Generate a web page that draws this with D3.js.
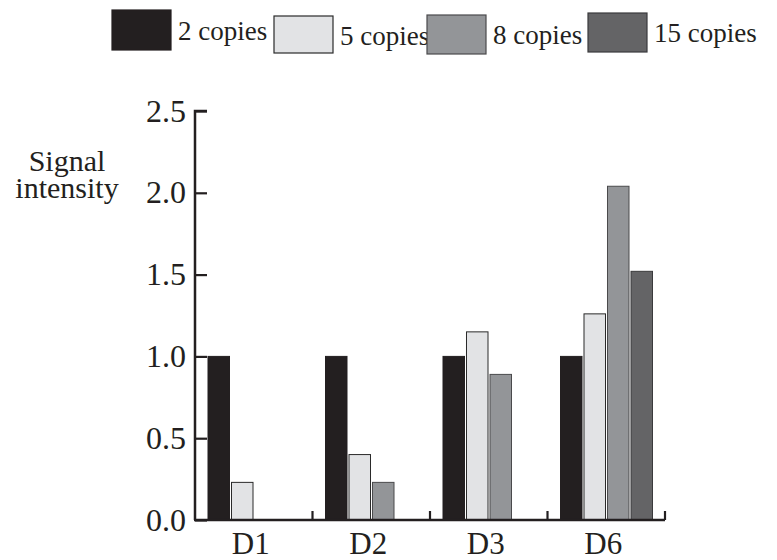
<!DOCTYPE html>
<html>
<head>
<meta charset="utf-8">
<script src="https://cdn.jsdelivr.net/npm/d3@7"></script>
<style>
  html, body { margin: 0; padding: 0; background: #fff; }
  svg { display: block; font-family: "Liberation Serif", "Times New Roman", serif; }
</style>
</head>
<body>
<svg id="chart" width="777" height="560"></svg>
<script>
// ---- data ----
const categories = ["D1", "D2", "D3", "D6"];
const seriesNames = ["2 copies", "5 copies", "8 copies", "15 copies"];
const values2  = [1.00, 1.00, 1.00, 1.00];
const values5  = [0.23, 0.40, 1.15, 1.26];
const values8  = [null, 0.23, 0.89, 2.04];
const values15 = [null, null, null, 1.52];
const yTicks = [0.0, 0.5, 1.0, 1.5, 2.0, 2.5];

// ---- styles / layout ----
const fills   = ["#231f20", "#e2e3e5", "#939598", "#646466"];
const strokes = ["#231f20", "#2a2a2a", "#4a4a4c", "#3a3a3c"];
const legendX = [112, 274, 427, 588];
const legendBoxY = [10, 16, 15, 13];
const legendBoxH = [40, 37, 39, 39];
const legendTextY = [40, 45, 43.5, 42];

const seriesValues = [values2, values5, values8, values15];
const svg = d3.select("#chart");

const x = d3.scaleBand().domain(categories).range([195, 665]).padding(0);
const xi = d3.scaleBand().domain(d3.range(seriesNames.length)).range([13, 105]).paddingInner(0.085).paddingOuter(0);
const y = d3.scaleLinear().domain([0, 2.5]).range([520, 111]);

// bars
const rows = [];
seriesValues.forEach((vals, s) => {
  vals.forEach((v, c) => { if (v != null) rows.push({ s, c: categories[c], v }); });
});
svg.append("g").selectAll("rect").data(rows).join("rect")
  .attr("x", d => x(d.c) + xi(d.s))
  .attr("y", d => y(d.v))
  .attr("width", xi.bandwidth())
  .attr("height", d => y(0) - y(d.v))
  .attr("fill", d => fills[d.s])
  .attr("stroke", d => strokes[d.s])
  .attr("stroke-width", 1);

// y axis
const yAxis = d3.axisRight(y).tickValues(yTicks).tickSize(12).tickFormat("");
const gy = svg.append("g").attr("transform", "translate(195,0)").call(yAxis);
gy.select(".domain").attr("d", `M12,${y(2.5)}H0V${y(0)}`).attr("stroke", "#231f20").attr("stroke-width", 2.5).attr("fill", "none");
gy.selectAll(".tick line").attr("stroke", "#231f20").attr("stroke-width", 2.2);
svg.append("g").selectAll("text").data(yTicks).join("text")
  .attr("x", 186).attr("y", d => y(d)).attr("dy", "0.33em")
  .attr("text-anchor", "end").attr("font-size", 32).attr("fill", "#231f20")
  .text(d3.format(".1f"));

// x axis
const xAxis = d3.axisTop(x).tickSize(9).tickFormat("");
const gx = svg.append("g").attr("transform", `translate(0,${y(0)})`).call(xAxis);
gx.select(".domain").attr("d", `M194,0H665`).attr("stroke", "#231f20").attr("stroke-width", 2.5);
gx.selectAll(".tick").attr("transform", d => `translate(${x(d) + x.bandwidth()},0)`);
gx.selectAll(".tick line").attr("stroke", "#231f20").attr("stroke-width", 2.2);
svg.append("g").selectAll("text").data(categories).join("text")
  .attr("x", d => x(d) + x.bandwidth() / 2 - 3).attr("y", 554)
  .attr("text-anchor", "middle").attr("font-size", 31).attr("fill", "#231f20")
  .text(d => d);

// y label
const yl = svg.append("text").attr("text-anchor", "middle").attr("font-size", 30).attr("fill", "#231f20");
yl.append("tspan").attr("x", 67).attr("y", 171).text("Signal");
yl.append("tspan").attr("x", 67).attr("y", 198).text("intensity");

// legend
const lg = svg.append("g").selectAll("g").data(seriesNames).join("g");
lg.append("rect")
  .attr("x", (d, i) => legendX[i]).attr("y", (d, i) => legendBoxY[i])
  .attr("width", 59).attr("height", (d, i) => legendBoxH[i])
  .attr("fill", (d, i) => fills[i]).attr("stroke", (d, i) => strokes[i]).attr("stroke-width", 1.2);
lg.append("text")
  .attr("x", (d, i) => legendX[i] + 66).attr("y", (d, i) => legendTextY[i])
  .attr("font-size", 27).attr("fill", "#231f20")
  .text(d => d);
</script>
</body>
</html>
